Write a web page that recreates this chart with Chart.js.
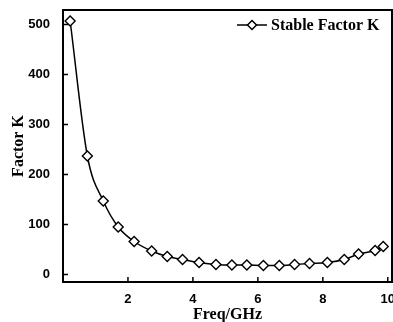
<!DOCTYPE html>
<html>
<head>
<meta charset="utf-8">
<script src="https://cdn.jsdelivr.net/npm/chart.js@4.4.1/dist/chart.umd.min.js"></script>
<style>
  html, body { margin: 0; padding: 0; background: #fff; }
  #wrap { width: 393px; height: 322px; }
</style>
</head>
<body>
<div id="wrap"><canvas id="canvasFactor"></canvas></div>
<script>
// valores
var freq = [0.22, 0.75, 1.24, 1.70, 2.19, 2.73, 3.21, 3.68, 4.19, 4.71, 5.20, 5.66, 6.17, 6.66, 7.13, 7.59, 8.14, 8.66, 9.10, 9.61, 9.86];
var factorK = [507, 237, 147, 95, 66, 47, 36, 30, 24, 20, 19, 19, 18, 18, 20, 22, 24, 30, 41, 48, 56];
var xTicks = [2, 4, 6, 8, 10];
var yTicks = [0, 100, 200, 300, 400, 500];
var serieLabel = 'Stable Factor K';

var tickFont = { family: "'Liberation Sans Narrow', 'Liberation Sans', Arial, sans-serif", size: 13, weight: 'bold' };
var titleFont = { family: "'Liberation Serif', 'Times New Roman', serif", size: 16, weight: 'bold', lineHeight: 0.9 };

var toPuntos = [];
freq.forEach(function(f, i){
	toPuntos.push({ x: f, y: factorK[i] });
});

// marco, ticks hacia adentro y leyenda
var marcoPlugin = {
	id: 'marco',
	afterDraw: function(chart){
		var ctx = chart.ctx;
		var a = chart.chartArea;
		var sx = chart.scales.x, sy = chart.scales.y;
		ctx.save();
		ctx.strokeStyle = '#000';
		ctx.lineWidth = 2;
		ctx.strokeRect(a.left, a.top, a.right - a.left, a.bottom - a.top);
		ctx.lineWidth = 1.5;
		ctx.beginPath();
		xTicks.forEach(function(v){
			var px = sx.getPixelForValue(v);
			ctx.moveTo(px, a.bottom);
			ctx.lineTo(px, a.bottom - 5);
		});
		yTicks.forEach(function(v){
			var py = sy.getPixelForValue(v);
			ctx.moveTo(a.left, py);
			ctx.lineTo(a.left + 5, py);
		});
		ctx.stroke();

		// leyenda
		var ly = 25;
		ctx.lineWidth = 1.5;
		ctx.beginPath();
		ctx.moveTo(237, ly);
		ctx.lineTo(267, ly);
		ctx.stroke();
		ctx.beginPath();
		ctx.moveTo(252, ly - 4.5);
		ctx.lineTo(256.5, ly);
		ctx.lineTo(252, ly + 4.5);
		ctx.lineTo(247.5, ly);
		ctx.closePath();
		ctx.fillStyle = '#fff';
		ctx.fill();
		ctx.stroke();
		ctx.fillStyle = '#000';
		ctx.font = "bold 16px 'Liberation Serif', 'Times New Roman', serif";
		ctx.textAlign = 'left';
		ctx.textBaseline = 'middle';
		ctx.fillText(serieLabel, 271, ly + 1);
		ctx.restore();
	}
};

var ctx = document.getElementById('canvasFactor').getContext('2d');
window.myLine = new Chart(ctx, {
	type: 'line',
	data: {
		datasets: [{
			label: serieLabel,
			data: toPuntos,
			borderColor: '#000',
			borderWidth: 1.5,
			backgroundColor: '#fff',
			pointStyle: 'rectRot',
			pointRadius: 5,
			pointBorderWidth: 1.4,
			pointBorderColor: '#000',
			pointBackgroundColor: '#fff',
			cubicInterpolationMode: 'monotone',
			fill: false
		}]
	},
	options: {
		responsive: true,
		maintainAspectRatio: false,
		animation: false,
		layout: { autoPadding: false, padding: { left: 0, right: 1, top: 10, bottom: 0 } },
		plugins: {
			legend: { display: false },
			tooltip: { enabled: false }
		},
		scales: {
			x: {
				type: 'linear',
				min: 0,
				max: 10.13,
				afterBuildTicks: function(scale){
					scale.ticks = xTicks.map(function(v){ return { value: v }; });
				},
				afterFit: function(scale){
					scale.height = 40;
					scale.paddingLeft = 0;
					scale.paddingRight = 0;
				},
				grid: { display: false, drawTicks: false },
				border: { display: false },
				ticks: { color: '#000', font: tickFont, padding: 10, maxRotation: 0 },
				title: { display: true, text: 'Freq/GHz', color: '#000', font: titleFont, padding: 0 }
			},
			y: {
				type: 'linear',
				min: -15,
				max: 529,
				afterBuildTicks: function(scale){
					scale.ticks = yTicks.map(function(v){ return { value: v }; });
				},
				afterFit: function(scale){
					scale.width = 63;
					scale.paddingTop = 0;
					scale.paddingBottom = 0;
				},
				grid: { display: false, drawTicks: false },
				border: { display: false },
				ticks: { color: '#000', font: tickFont, padding: 13 },
				title: { display: true, text: 'Factor K', color: '#000', font: titleFont, padding: { top: 12, bottom: 0 } }
			}
		}
	},
	plugins: [marcoPlugin]
});
</script>
</body>
</html>
